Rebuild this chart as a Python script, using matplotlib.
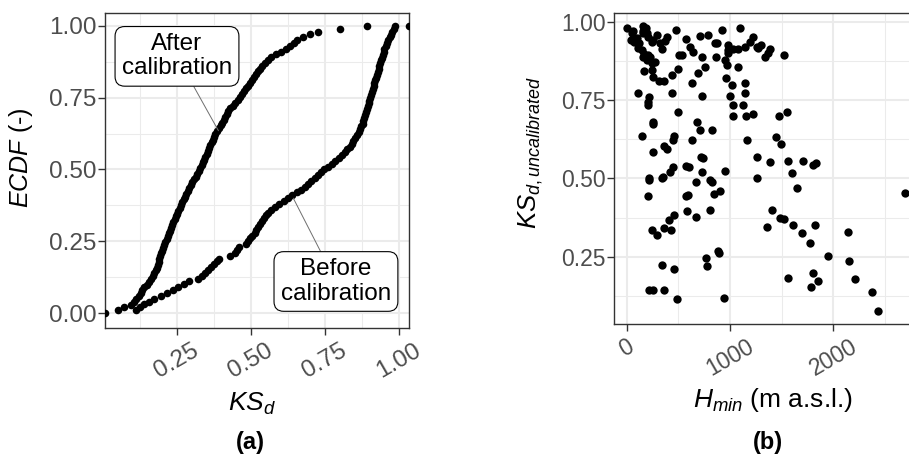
import numpy as np
import matplotlib
matplotlib.use("Agg")
import matplotlib.pyplot as plt

# KS_d values (sorted), panel (a)
ks_after = [0.050, 0.070, 0.095, 0.105, 0.113, 0.121, 0.127, 0.133, 0.139, 0.147,
            0.155, 0.162, 0.168, 0.174, 0.178, 0.182, 0.186, 0.188, 0.190, 0.193,
            0.196, 0.200, 0.204, 0.207, 0.211, 0.215, 0.219, 0.222, 0.226, 0.230,
            0.234, 0.238, 0.242, 0.246, 0.250, 0.254, 0.260, 0.264, 0.268, 0.273,
            0.277, 0.281, 0.286, 0.290, 0.296, 0.302, 0.308, 0.313, 0.319, 0.325,
            0.329, 0.333, 0.338, 0.342, 0.346, 0.350, 0.354, 0.359, 0.363, 0.367,
            0.371, 0.375, 0.380, 0.386, 0.391, 0.397, 0.402, 0.408, 0.413, 0.419,
            0.424, 0.430, 0.438, 0.446, 0.455, 0.463, 0.471, 0.476, 0.483, 0.490,
            0.497, 0.504, 0.510, 0.517, 0.524, 0.531, 0.538, 0.546, 0.557, 0.569,
            0.584, 0.601, 0.618, 0.631, 0.645, 0.654, 0.675, 0.699, 0.727, 0.801,
            0.891]
ks_before = [0.110, 0.125, 0.140, 0.155, 0.172, 0.195, 0.217, 0.235, 0.252, 0.272,
             0.292, 0.320, 0.333, 0.345, 0.356, 0.366, 0.375, 0.385, 0.392, 0.430,
             0.445, 0.452, 0.460, 0.483, 0.490, 0.498, 0.505, 0.512, 0.518, 0.525,
             0.532, 0.538, 0.545, 0.552, 0.558, 0.566, 0.580, 0.595, 0.610, 0.625,
             0.640, 0.654, 0.668, 0.682, 0.693, 0.704, 0.715, 0.726, 0.737, 0.747,
             0.761, 0.773, 0.785, 0.796, 0.808, 0.817, 0.826, 0.834, 0.840, 0.846,
             0.852, 0.859, 0.865, 0.869, 0.873, 0.877, 0.880, 0.883, 0.885, 0.888,
             0.891, 0.894, 0.897, 0.900, 0.903, 0.906, 0.908, 0.911, 0.914, 0.917,
             0.919, 0.922, 0.925, 0.928, 0.931, 0.934, 0.936, 0.939, 0.942, 0.945,
             0.948, 0.951, 0.955, 0.958, 0.963, 0.968, 0.973, 0.977, 0.982, 0.986]

# panel (b): H_min (m a.s.l.) vs uncalibrated KS_d
h_min = [6, 48, 39, 71, 161, 187, 161, 194, 242, 290,
         323, 371, 387, 339, 113, 145, 161, 194, 226, 242,
         168, 242, 258, 316, 361, 435, 477, 500, 532, 574,
         613, 645, 710, 790, 726, 694, 758, 629, 855, 865,
         919, 984, 952, 968, 984, 1081, 1097, 1145, 1194, 1258,
         1081, 1016, 1000, 1145, 1145, 1123, 1032, 1026, 1155, 1226,
         113, 219, 210, 210, 500, 258, 258, 152, 684, 710,
         829, 461, 452, 629, 361, 387, 258, 742, 1168, 1258,
         58, 97, 123, 203, 258, 155, 171, 210, 274, 984,
         961, 1032, 732, 435, 510, 877, 1226,
         1300, 1268, 1387, 1365, 1339, 1526, 1474, 1548, 1445, 1494,
         1387, 1565, 1710, 1807, 1829,
         219, 219, 339, 348, 419, 452, 606, 726, 952, 1258,
         203, 574, 597, 668, 806, 823, 848, 903, 581, 668,
         806, 461, 413, 361, 248, 297, 429, 887, 894, 765,
         777, 339, 458, 219, 258, 365, 484, 945,
         1603, 1645, 1403, 1484, 1526, 1361, 1613, 1823, 1694, 1774,
         1945, 2139, 2152, 1558, 1807, 1848, 1784, 2210, 2371, 2429,
         2694, 574, 716]
ks_uncal = [0.979, 0.963, 0.941, 0.936, 0.986, 0.979, 0.963, 0.965, 0.936, 0.957,
            0.931, 0.939, 0.952, 0.912, 0.915, 0.910, 0.888, 0.878, 0.888, 0.867,
            0.843, 0.846, 0.824, 0.812, 0.812, 0.830, 0.973, 0.848, 0.894, 0.944,
            0.920, 0.904, 0.954, 0.957, 0.888, 0.835, 0.854, 0.805, 0.931, 0.888,
            0.973, 0.926, 0.878, 0.862, 0.910, 0.912, 0.979, 0.920, 0.936, 0.920,
            0.856, 0.798, 0.763, 0.803, 0.771, 0.734, 0.734, 0.699, 0.699, 0.705,
            0.773, 0.761, 0.745, 0.734, 0.713, 0.681, 0.673, 0.635, 0.681, 0.654,
            0.656, 0.635, 0.624, 0.622, 0.603, 0.593, 0.585, 0.564, 0.624, 0.569,
            0.971, 0.947, 0.933, 0.952, 0.941, 0.971, 0.897, 0.894, 0.872, 0.899,
            0.822, 0.912, 0.763, 0.771, 0.894, 0.931, 0.950,
            0.926, 0.915, 0.912, 0.901, 0.886, 0.894, 0.699, 0.713, 0.633, 0.610,
            0.551, 0.556, 0.556, 0.543, 0.548,
            0.502, 0.495, 0.502, 0.505, 0.521, 0.537, 0.537, 0.521, 0.523, 0.502,
            0.445, 0.445, 0.447, 0.487, 0.495, 0.487, 0.450, 0.460, 0.396, 0.376,
            0.399, 0.383, 0.367, 0.343, 0.335, 0.319, 0.335, 0.268, 0.261, 0.245,
            0.221, 0.223, 0.210, 0.144, 0.144, 0.144, 0.114, 0.119,
            0.516, 0.468, 0.399, 0.372, 0.369, 0.345, 0.351, 0.351, 0.324, 0.293,
            0.252, 0.328, 0.236, 0.183, 0.197, 0.172, 0.154, 0.179, 0.136, 0.078,
            0.452, 0.540, 0.567]

xticks_a = [0.25, 0.50, 0.75, 1.00]
yticks_a = [0.00, 0.25, 0.50, 0.75, 1.00]
xticks_b = [0, 1000, 2000]
yticks_b = [0.25, 0.50, 0.75, 1.00]

plt.rcParams["font.family"] = ["Liberation Sans", "DejaVu Sans"]
plt.rcParams["mathtext.fontset"] = "custom"
plt.rcParams["mathtext.rm"] = "Liberation Sans"
plt.rcParams["mathtext.it"] = "Liberation Sans:italic"
plt.rcParams["mathtext.bf"] = "Liberation Sans:bold"

GRID = "#EBEBEB"
BORDER = "#333333"
TICKTXT = "#4D4D4D"


def estilo_bw(ax, size):
    # look de theme_bw de ggplot
    ax.set_facecolor("white")
    for s in ax.spines.values():
        s.set_color(BORDER)
        s.set_linewidth(1.0)
    ax.grid(True, which="major", color=GRID, lw=1.5)
    ax.grid(True, which="minor", color=GRID, lw=0.75)
    ax.set_axisbelow(True)
    ax.tick_params(which="major", length=5, width=1.0, color=BORDER,
                   labelcolor=TICKTXT, labelsize=size, pad=1)
    ax.tick_params(which="minor", length=0)
    plt.setp(ax.get_xticklabels(), rotation=30, ha="center", va="top")


def ecdf(values):
    v = np.sort(np.asarray(values))
    return v, np.arange(1, len(v) + 1) / len(v)


fig = plt.figure(figsize=(9.09, 4.61), dpi=100)

# ---- panel (a) ----
ax1 = fig.add_axes([105 / 909, 133 / 461, 304 / 909, 315 / 461])
ax1.set_xlim(0.0068, 1.0338)
ax1.set_ylim(-0.052, 1.045)
ax1.set_xticks(xticks_a)
ax1.set_xticklabels([f"{t:.2f}" for t in xticks_a])
ax1.set_xticks([0.125, 0.375, 0.625, 0.875], minor=True)
ax1.set_yticks(yticks_a)
ax1.set_yticklabels([f"{t:.2f}" for t in yticks_a])
ax1.set_yticks([0.125, 0.375, 0.625, 0.875], minor=True)
estilo_bw(ax1, 17.5)
ax1.tick_params(axis="x", pad=3)

for serie in (ks_after, ks_before):
    x, y = ecdf(serie)
    ax1.scatter(x, y, s=30, color="black", lw=0, zorder=3)
# puntos de relleno (-Inf, 0) y (Inf, 1) del stat_ecdf
x0, x1 = ax1.get_xlim()
ax1.scatter([x0, x1], [0, 1], s=30, color="black", lw=0, zorder=3)

caja = dict(boxstyle="round,pad=0.28,rounding_size=0.4", fc="white", ec="black", lw=0.8)
flecha = dict(arrowstyle="-", color="#6E6E6E", lw=0.7, shrinkA=0, shrinkB=0)
ax1.annotate("After\ncalibration", xy=(0.39, 0.635), xytext=(0.25, 0.894),
             ha="center", va="center", fontsize=17.5, linespacing=1.12,
             bbox=caja, arrowprops=flecha, zorder=5)
ax1.annotate("Before\ncalibration", xy=(0.643, 0.40), xytext=(0.787, 0.110),
             ha="center", va="center", fontsize=17.5, linespacing=1.12,
             bbox=caja, arrowprops=flecha, zorder=5)

ax1.set_xlabel(r"$KS_d$", fontsize=19, va="top")
ax1.xaxis.set_label_coords(0.483, -0.2)
ax1.set_ylabel(r"$ECDF$ (-)", fontsize=18)
ax1.yaxis.set_label_coords(-0.23, 0.54)

# ---- panel (b) ----
ax2 = fig.add_axes([614 / 909, 137 / 461, 306 / 909, 311 / 461])
ax2.set_xlim(-123, 2838)
ax2.set_ylim(0.035, 1.028)
ax2.set_xticks(xticks_b)
ax2.set_xticklabels([str(t) for t in xticks_b])
ax2.set_xticks([500, 1500, 2500], minor=True)
ax2.set_yticks(yticks_b)
ax2.set_yticklabels([f"{t:.2f}" for t in yticks_b])
ax2.set_yticks([0.125, 0.375, 0.625, 0.875], minor=True)
estilo_bw(ax2, 16.5)
ax2.tick_params(axis="x", pad=3)

ax2.scatter(h_min, ks_uncal, s=36, color="black", lw=0, zorder=3)

ax2.set_xlabel(r"$H_{min}$ (m a.s.l.)", fontsize=19, va="top")
ax2.xaxis.set_label_coords(0.52, -0.2)
ax2.set_ylabel(r"$KS_{d,uncalibrated}$", fontsize=18.5)
ax2.yaxis.set_label_coords(-0.225, 0.55)

fig.text(250 / 909, 19 / 461, "(a)", fontsize=17, fontweight="bold", ha="center", va="center")
fig.text(768 / 909, 19 / 461, "(b)", fontsize=17, fontweight="bold", ha="center", va="center")

fig.savefig("out.png", dpi=100, facecolor="white")
